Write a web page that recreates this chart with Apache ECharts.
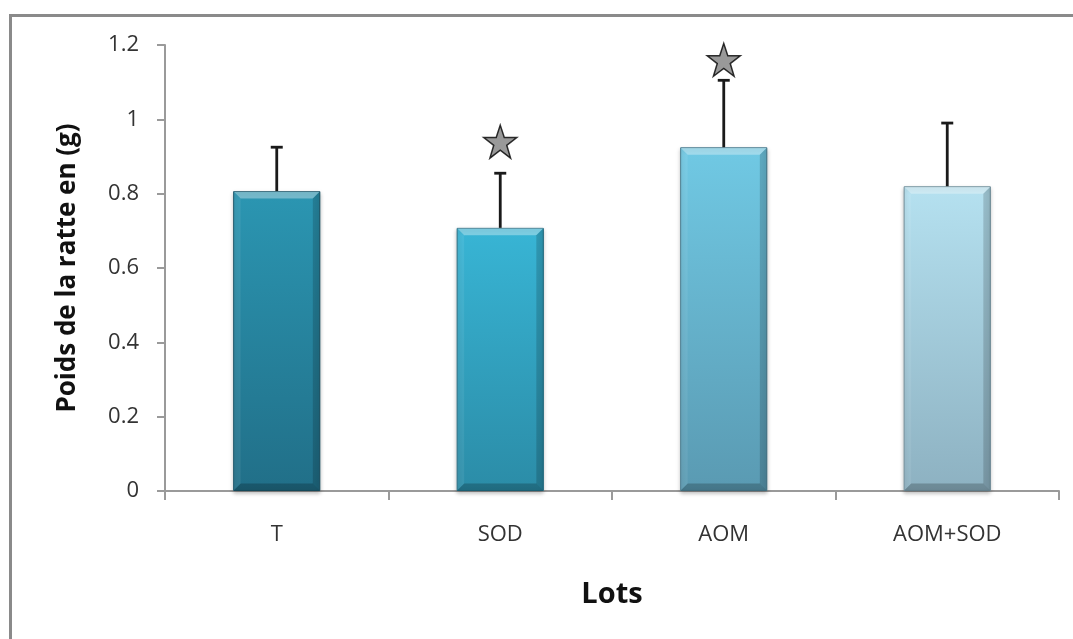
<!DOCTYPE html>
<html>
<head>
<meta charset="utf-8">
<script src="https://cdn.jsdelivr.net/npm/echarts@6/dist/echarts.min.js"></script>
<style>
html,body{margin:0;padding:0;background:#fff;}
#frame{position:absolute;left:9px;top:14px;width:1100px;height:700px;border:3px solid #8a8a8a;box-sizing:border-box;}
#c{position:absolute;left:0;top:0;width:1073px;height:639px;}
</style>
</head>
<body>
<div id="frame"></div>
<div id="c"></div>
<script>
const categories = ['T', 'SOD', 'AOM', 'AOM+SOD'];
const means = [0.807, 0.708, 0.925, 0.820];
const errors = [0.118, 0.147, 0.180, 0.170];
const starValues = [null, 0.94, 1.16, null];
const yTicks = [0, 0.2, 0.4, 0.6, 0.8, 1, 1.2];
const barColors = [
  ['#2b96b2', '#216f88', '#185266'],
  ['#38b5d5', '#2b8ca7', '#1f6a80'],
  ['#70c9e4', '#5a9ab2', '#47798c'],
  ['#b5e1f0', '#8db1c1', '#6e8c99']
];

const chart = echarts.init(document.getElementById('c'), null, {renderer: 'canvas'});
const font = '"Open Sans", "Liberation Sans", sans-serif';
const starPath = 'path://M50,2 L61.5,36 L97,36 L68.5,57 L79.5,92 L50,70.5 L20.5,92 L31.5,57 L3,36 L38.5,36 Z';
const BAR_FRAC = 0.39;

chart.setOption({
  backgroundColor: 'transparent',
  animation: false,
  grid: {left: 165, right: 14, top: 45, bottom: 148},
  xAxis: {
    type: 'category',
    data: categories,
    name: 'Lots',
    nameLocation: 'middle',
    nameGap: 89,
    nameTextStyle: {fontFamily: font, fontWeight: 'bold', fontSize: 29, color: '#111'},
    axisLine: {lineStyle: {color: '#9a9a9a', width: 2}},
    axisTick: {show: true, length: 9, lineStyle: {color: '#9a9a9a', width: 2}},
    axisLabel: {fontFamily: font, fontSize: 22, color: '#333', margin: 33}
  },
  yAxis: {
    type: 'value',
    min: 0, max: 1.2, interval: 0.2,
    name: 'Poids de la ratte en (g)',
    nameLocation: 'middle',
    nameGap: 84,
    nameTextStyle: {fontFamily: font, fontWeight: 'bold', fontSize: 26, color: '#111'},
    axisLine: {show: true, lineStyle: {color: '#9a9a9a', width: 2}},
    axisTick: {show: true, length: 8, lineStyle: {color: '#9a9a9a', width: 2}},
    splitLine: {show: false},
    axisLabel: {
      fontFamily: font, fontSize: 22, color: '#333', margin: 26,
      formatter: function (v) {
        const t = yTicks.find(x => Math.abs(x - v) < 1e-9);
        return t === undefined ? '' : String(t);
      }
    }
  },
  series: [
    {
      type: 'bar',
      barWidth: (BAR_FRAC * 100) + '%',
      data: means.map((v, i) => ({
        value: v,
        itemStyle: {
          color: {type: 'linear', x: 0, y: 0, x2: 0, y2: 1, colorStops: [
            {offset: 0, color: barColors[i][0]},
            {offset: 1, color: barColors[i][1]}
          ]},
          borderColor: barColors[i][2],
          borderWidth: 1,
          shadowColor: 'rgba(0,0,0,0.25)',
          shadowBlur: 4,
          shadowOffsetY: 2
        }
      })),
      z: 2
    },
    {
      type: 'custom',
      z: 3,
      silent: true,
      data: means.map((v, i) => [i, v]),
      renderItem: function (params, api) {
        const i = api.value(0);
        const top = api.coord([i, api.value(1)]);
        const bot = api.coord([i, 0]);
        const w = api.size([1, 0])[0] * BAR_FRAC;
        const x0 = top[0] - w / 2 + 0.5, x1 = top[0] + w / 2 - 0.5;
        const yT = top[1] + 0.5, yB = bot[1] - 0.5;
        const b = 7;
        const poly = (pts, fill) => ({type: 'polygon', shape: {points: pts}, style: {fill: fill}});
        return {
          type: 'group',
          children: [
            poly([[x0, yT], [x1, yT], [x1 - b, yT + b], [x0 + b, yT + b]], 'rgba(255,255,255,0.35)'),
            poly([[x0, yT], [x0 + b, yT + b], [x0 + b, yB - b], [x0, yB]], 'rgba(255,255,255,0.07)'),
            poly([[x1, yT], [x1, yB], [x1 - b, yB - b], [x1 - b, yT + b]], 'rgba(0,0,0,0.16)'),
            poly([[x0, yB], [x1, yB], [x1 - b, yB - b], [x0 + b, yB - b]], 'rgba(0,0,0,0.22)')
          ]
        };
      }
    },
    {
      type: 'custom',
      z: 4,
      data: means.map((v, i) => [i, v, v + errors[i]]),
      renderItem: function (params, api) {
        const x = api.value(0);
        const p0 = api.coord([x, api.value(1)]);
        const p1 = api.coord([x, api.value(2)]);
        const half = 6;
        return {
          type: 'group',
          children: [
            {type: 'line', shape: {x1: p0[0], y1: p0[1], x2: p1[0], y2: p1[1]}, style: {stroke: '#1a1a1a', lineWidth: 2.8}},
            {type: 'line', shape: {x1: p1[0] - half, y1: p1[1], x2: p1[0] + half, y2: p1[1]}, style: {stroke: '#1a1a1a', lineWidth: 2.8}}
          ]
        };
      }
    },
    {
      type: 'scatter',
      z: 5,
      symbol: starPath,
      symbolSize: 33,
      itemStyle: {color: '#7f7f7f', borderColor: '#000', borderWidth: 1.5},
      data: starValues.map((v, i) => v === null ? null : [i, v]).filter(d => d)
    }
  ]
});
</script>
</body>
</html>
